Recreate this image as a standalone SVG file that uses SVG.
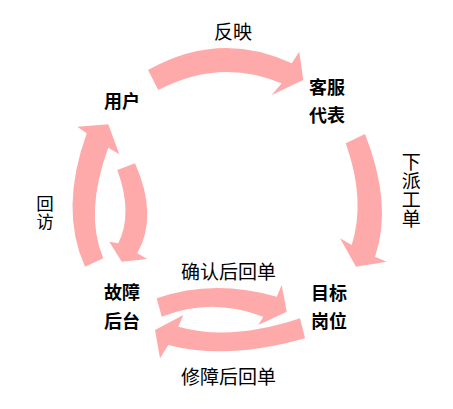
<svg xmlns="http://www.w3.org/2000/svg" width="453" height="409" viewBox="0 0 453 409">
<style>
.arr{fill:#FFAAAA;stroke:none}
.lbl{font-family:"Noto Sans CJK SC","Noto Sans",sans-serif;font-size:18px;font-weight:bold;fill:#000}
.txt{font-family:"Noto Sans CJK SC","Noto Sans",sans-serif;font-size:19px;fill:#000}
.vert{writing-mode:vertical-rl;text-orientation:upright}
</style>
<rect width="453" height="409" fill="#fff"/>
<g id="connectors">
<path id="c-fanying" class="arr" d="M148,70 Q220,29.5 291.7,63.3 L299.3,51.7 L303.3,80 L271.7,95 L281.7,83.3 Q220,57.5 158.3,90 Z"/>
<path id="c-xiapai" class="arr" d="M365,134 Q393,205 375,256.7 L386.7,261.7 L356,266.7 L340,238.3 L351.7,245 Q366,200 345.7,143.3 Z"/>
<path id="c-huifang" class="arr" d="M85,266.7 Q59.2,210 86.7,133.3 L77.3,126.7 L108.3,124.3 L119.3,154.3 L108.3,147.7 Q84.2,213 103.3,258.3 Z"/>
<path id="c-inner" class="arr" d="M135,163.3 Q158.4,215.7 137.3,253.3 L147.3,259 L121.7,261.7 L109.3,241.7 L118.3,243.3 Q133.2,213.4 117.3,170 Z"/>
<path id="c-queren" class="arr" d="M156.7,298.3 Q213.3,278.5 276.7,296.7 L281.7,285 L286.7,311.7 L258.3,325 L263.3,316.7 Q211.5,296.7 161.7,316.7 Z"/>
<path id="c-xiuzhang" class="arr" d="M305,338.3 Q227.4,360.4 168.3,345 L160,358.3 L155,330 L183.3,315 L178.3,326.7 Q230.8,341.5 300,318.3 Z"/>
<text class="txt" x="214" y="39">反映</text>
<text class="txt vert" x="411.2" y="152">下派工单</text>
<text class="txt vert" x="45" y="195" style="font-size:17.5px">回访</text>
<text class="txt" x="181" y="279">确认后回单</text>
<text class="txt" x="181" y="384">修障后回单</text>
</g>
<g id="node-yonghu"><text class="lbl" x="104" y="108">用户</text></g>
<g id="node-kefu"><text class="lbl" x="309" y="94">客服</text><text class="lbl" x="309" y="122">代表</text></g>
<g id="node-guzhang"><text class="lbl" x="104" y="299">故障</text><text class="lbl" x="104" y="328">后台</text></g>
<g id="node-mubiao"><text class="lbl" x="311" y="299.5">目标</text><text class="lbl" x="311" y="328">岗位</text></g>
</svg>
